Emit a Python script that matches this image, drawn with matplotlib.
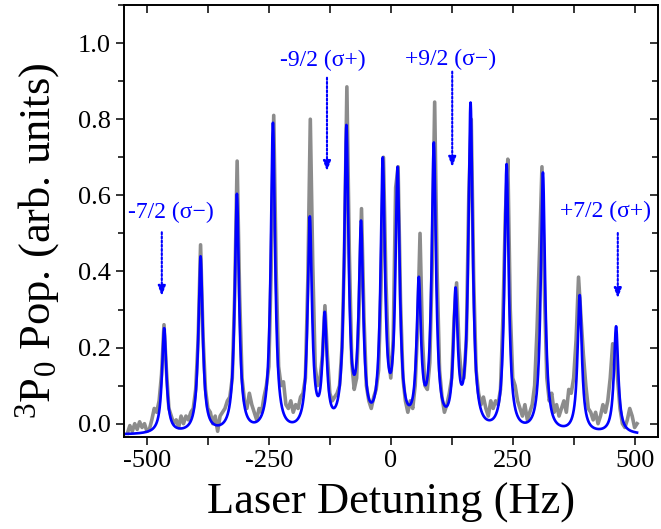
import numpy as np
import matplotlib
matplotlib.use("Agg")
import matplotlib.pyplot as plt
from matplotlib.ticker import MultipleLocator, FormatStrFormatter

plt.rcParams['font.family'] = ['Liberation Serif', 'DejaVu Serif']
plt.rcParams['mathtext.fontset'] = 'custom'
plt.rcParams['mathtext.rm'] = 'Liberation Serif'
plt.rcParams['mathtext.it'] = 'Liberation Serif:italic'
plt.rcParams['axes.unicode_minus'] = False

# ---------------- data ----------------
# measured spectrum (gray), sampled every 5 Hz from -540 to 505 Hz
data_x_start = -540
data_x_step = 5
data_y = [
    -0.025, -0.005, -0.020, 0.000, -0.015, 0.005, -0.010, 0.000, -0.020, -0.015,   # -540..-495
    0.010, 0.040, 0.030, 0.060, 0.130, 0.260, 0.140, 0.040, 0.020, 0.000,          # -490..-445
    0.010, -0.010, 0.020, 0.000, 0.020, 0.010, 0.030, 0.040, 0.090, 0.220,         # -440..-395
    0.470, 0.230, 0.090, 0.040, 0.030, 0.000, 0.020, -0.020, 0.020, 0.030,         # -390..-345
    0.040, 0.060, 0.070, 0.120, 0.340, 0.690, 0.340, 0.120, 0.060, 0.040,          # -340..-295
    0.080, 0.050, 0.030, 0.010, 0.040, 0.030, 0.070, 0.100, 0.150, 0.420,          # -290..-245
    0.810, 0.400, 0.150, 0.100, 0.110, 0.050, 0.040, 0.060, 0.030, 0.050,          # -240..-195
    0.040, 0.070, 0.080, 0.120, 0.380, 0.800, 0.420, 0.150, 0.100, 0.120,          # -190..-145
    0.180, 0.310, 0.180, 0.080, 0.060, 0.070, 0.080, 0.100, 0.200, 0.450,          # -140..-95
    0.885, 0.450, 0.160, 0.090, 0.120, 0.300, 0.565, 0.280, 0.100, 0.060,          # -90..-45
    0.040, 0.070, 0.090, 0.140, 0.360, 0.700, 0.380, 0.180, 0.120, 0.220,          # -40..5
    0.620, 0.675, 0.320, 0.120, 0.060, 0.030, 0.060, 0.040, 0.100, 0.250,          # 10..55
    0.500, 0.220, 0.100, 0.090, 0.160, 0.420, 0.845, 0.400, 0.140, 0.070,          # 60..105
    0.030, 0.050, 0.080, 0.120, 0.280, 0.370, 0.200, 0.120, 0.120, 0.220,          # 110..155
    0.600, 0.800, 0.380, 0.140, 0.080, 0.050, 0.070, 0.040, 0.020, 0.060,          # 160..205
    0.040, 0.060, 0.050, 0.090, 0.280, 0.550, 0.695, 0.300, 0.120, 0.100,          # 210..255
    0.060, 0.040, 0.020, 0.050, 0.010, 0.030, 0.050, 0.100, 0.250, 0.450,          # 260..305
    0.675, 0.350, 0.120, 0.060, 0.080, 0.030, 0.050, 0.020, 0.040, 0.060,          # 310..355
    0.030, 0.090, 0.080, 0.120, 0.220, 0.385, 0.280, 0.180, 0.100, 0.040,          # 360..405
    0.030, 0.010, 0.030, 0.000, 0.020, 0.050, 0.030, 0.060, 0.120, 0.210,          # 410..455
    0.200, 0.120, 0.040, 0.000, -0.010, 0.010, 0.040, 0.020, -0.010, 0.000,        # 460..505
]

# Lorentzian fit (blue): line centres (Hz) and fitted peak heights
fit_centers = [-464.6, -390.0, -315.5, -241.6, -166.0, -135.5, -91.0, -61.0, -16.4,
               14.0, 57.5, 88.3, 132.8, 163.6, 237.5, 312.0, 387.4, 462.0]
fit_heights = [0.251, 0.440, 0.604, 0.791, 0.545, 0.294, 0.785, 0.534, 0.700,
               0.675, 0.386, 0.739, 0.358, 0.844, 0.682, 0.660, 0.338, 0.256]
fit_offset = -0.03
fit_hwhm = 5.3
fit_range = (-545, 505)

# annotations: label, text position (x, y), arrow start y, arrow tip (x, y)
ann_labels = ['-7/2 (σ−)', '-9/2 (σ+)', '+9/2 (σ−)', '+7/2 (σ+)']
ann_text_xy = [(-451, 0.555), (-139, 0.955), (123, 0.958), (441, 0.558)]
ann_arrow_x = [-469.5, -130.8, 126.0, 465.5]
ann_arrow_y0 = [0.503, 0.909, 0.925, 0.501]
ann_arrow_y1 = [0.335, 0.663, 0.674, 0.329]

# ---------------- model ----------------
c = np.array(fit_centers)
h = np.array(fit_heights)

def lor(x, x0):
    return 1.0 / (1.0 + ((x - x0) / fit_hwhm) ** 2)

M = lor(c[:, None], c[None, :])
amps = np.linalg.solve(M, h - fit_offset)
xf = np.linspace(fit_range[0], fit_range[1], 4000)
yf = fit_offset + (amps[None, :] * lor(xf[:, None], c[None, :])).sum(axis=1)

dy = np.array(data_y)
dx = data_x_start + data_x_step * np.arange(len(dy))

# ---------------- figure ----------------
fig = plt.figure(figsize=(6.61, 5.29), dpi=100)
ax = fig.add_axes([0.1876, 0.1739, 0.9955 - 0.1876, 0.9905 - 0.1739])

ax.plot(dx, dy, color='#8c8c8c', lw=2.6, solid_joinstyle='round')
ax.plot(xf, yf, color='#0000ff', lw=1.9)

ax.set_xlim(-547, 548)
ax.set_ylim(-0.035, 1.1)

ax.xaxis.set_major_locator(MultipleLocator(250))
ax.xaxis.set_minor_locator(MultipleLocator(125))
ax.yaxis.set_major_locator(MultipleLocator(0.2))
ax.yaxis.set_minor_locator(MultipleLocator(0.1))
ax.yaxis.set_major_formatter(FormatStrFormatter('%.1f'))
ax.set_yticks([0.0, 0.2, 0.4, 0.6, 0.8, 1.0])

ax.tick_params(axis='both', which='major', labelsize=19, direction='out', length=6, width=1.1,
               top=True, right=True)
ax.tick_params(axis='both', which='minor', direction='out', length=4, width=1.1,
               top=True, right=True)
ax.tick_params(axis='x', which='both', length=6)
# top & right ticks point inward
for t in ax.xaxis.get_ticklines(minor=False)[1::2] + ax.xaxis.get_ticklines(minor=True)[1::2]:
    t.set_marker(3)
for t in ax.yaxis.get_ticklines(minor=False)[1::2] + ax.yaxis.get_ticklines(minor=True)[1::2]:
    t.set_marker(0)
for s in ax.spines.values():
    s.set_linewidth(1.4)

ax.set_xlabel('Laser Detuning (Hz)', fontsize=32, labelpad=0)
ax.xaxis.set_label_coords(0.5, -0.105, transform=ax.transAxes)
ax.set_ylabel(r'$^{3}$P$_{0}$ Pop. (arb. units)', fontsize=32)
fig.text(38 / 661, 1 - 241 / 529, r'$^{3}$P$_{0}$ Pop. (arb. units)', fontsize=32,
         rotation=90, ha='center', va='center')
ax.yaxis.label.set_visible(False)

for lab, (tx, ty), axx, y0, y1 in zip(ann_labels, ann_text_xy, ann_arrow_x, ann_arrow_y0, ann_arrow_y1):
    ax.text(tx, ty, lab, color='#0000ff', fontsize=17, ha='center', va='center')
    ax.annotate('', xy=(axx, y1), xytext=(axx, y0),
                arrowprops=dict(arrowstyle='-|>,head_length=0.6,head_width=0.22',
                                color='#0000ff', lw=1.5, linestyle=(0, (1, 1)),
                                shrinkA=0, shrinkB=0))

fig.savefig('out.png', dpi=100)
